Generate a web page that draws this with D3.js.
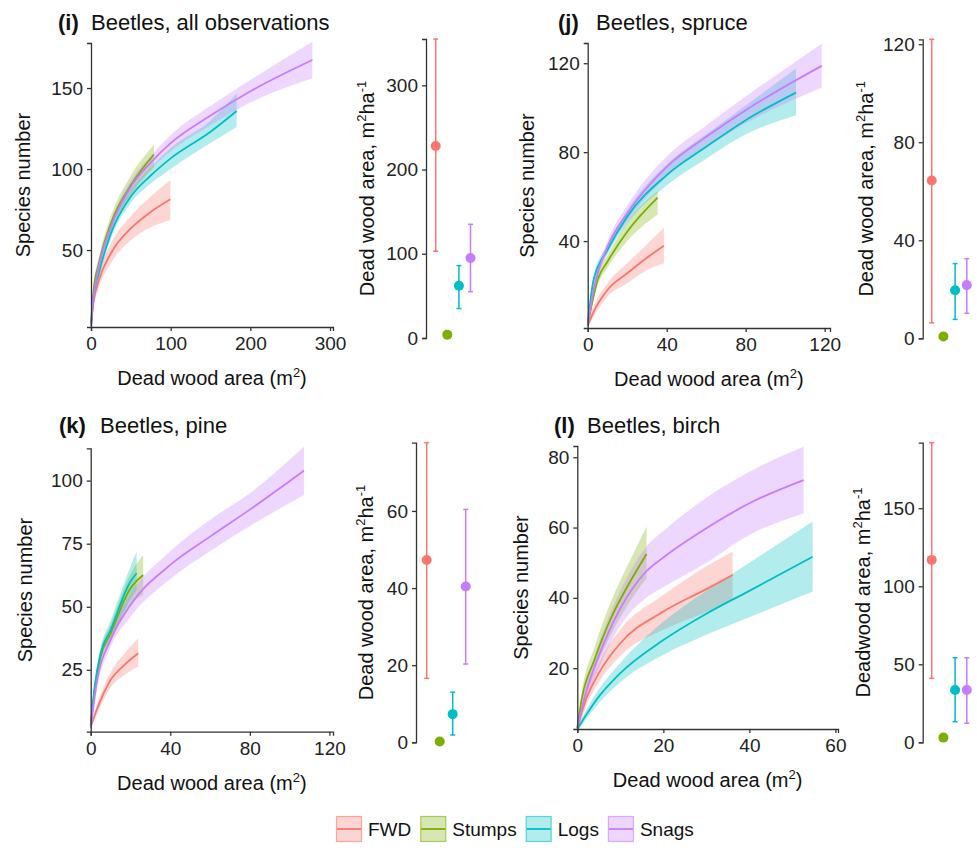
<!DOCTYPE html>
<html>
<head>
<meta charset="utf-8">
<script src="https://cdn.jsdelivr.net/npm/d3@7"></script>
<style>
  body { margin: 0; background: #fff; }
  svg { font-family: "Liberation Sans", Arial, sans-serif; }
  .axis path, .axis line { stroke: #333; stroke-width: 1.3px; }
  .axis text { fill: #222; font-size: 19px; font-family: "Liberation Sans", Arial, sans-serif; }
</style>
</head>
<body>
<svg id="chart" width="977" height="854"></svg>
<script>
var seriesNames = ["FWD", "Stumps", "Logs", "Snags"];
var seriesColors = ["#F8766D", "#7CAE00", "#00BFC4", "#C77CFF"];

// rarefaction curves, rows are [area m2, species, lower, upper]
var allFWD    = [[0,3,2,4],[3,17,14,20],[10,31.5,27,36],[25,48,42,54],[50,63.4,56,71],[75,73.5,64,83],[99.6,81.3,68.5,93.2]];
var allStumps = [[0,4,3,6],[3,24,21,27],[10,42,38,46],[25,66.5,62,71],[50,90,84,96],[79,109,101,115]];
var allLogs   = [[0,3,2,4],[3,20,18,22],[10,36,33,39],[25,60.3,57,64],[50,83,79,87],[75,96,91,101],[100,106.6,100,113],[150,123,116,130],[182.8,135.8,126,146.7]];
var allSnags  = [[0,3,2,4],[3,20,18,22],[10,40,37,43],[25,64.4,61,68],[50,89,85,93],[75,104,100,108],[100,116,111,121],[150,133,127,139],[200,148,141,155],[277.8,167.3,156,178.6]];

var spruceFWD    = [[0,2,1,3],[3,8.2,6,10.5],[10,18,15,21],[20,25.5,21,30],[30,32.5,27,38.5],[38.6,37.9,30,46]];
var spruceStumps = [[0,2,1,3],[5,22.5,20,25],[10,30.7,28,33.5],[20,44.2,40,48.5],[35.4,59.5,52,62.5]];
var spruceLogs   = [[0,3,2,4],[3,22.5,20,25],[10,36,34,38],[20,51,48,54],[40,69.7,65,74.5],[60,82.4,77,88],[80,94.4,88,101],[105.5,106.8,96.6,117.6]];
var spruceSnags  = [[0,2,1,3],[3,18,16,20],[10,37.4,35,40],[20,52.4,49,56],[40,73.4,69,78],[60,86.9,82,92],[80,98.9,93,105],[118.5,118.8,109,128.8]];

var pineFWD    = [[0,2.5,1.5,3.5],[3,9.1,7,11],[10,21,18,24],[17,27,23,31.5],[23.9,31.6,26.3,37.5]];
var pineStumps = [[0,3,2,4],[2,17,15,19],[5,30.3,28,33],[10,39.5,36,43],[20,57.3,51,63],[26.4,62.6,54.7,70.5]];
var pineLogs   = [[0,3,2,4],[2,18.4,16,20.5],[5,31.6,29,34],[10,40.8,37,44.5],[20,60,53,66],[23.1,63.3,56.7,71.9]];
var pineSnags  = [[0,2,1,3],[3,19.7,17,22],[10,36.9,34,40],[20,50.7,46,55],[40,66.6,61,72],[60,77.8,72,84.5],[80,88.5,82,95],[107.2,103.9,94.3,113.4]];

var birchFWD    = [[0,3,2,4],[2,11,9,13],[5,18.6,16,21.5],[10,27.1,23.5,31],[20,36.1,30.9,40.8],[30,42.5,36,49],[36.1,46.5,39.4,53.2]];
var birchStumps = [[0,3,2,4],[1,11,8,13],[4,22.4,19,26],[8,34.7,30,39.5],[12,44,38.5,50],[16.1,52.5,45.6,60.3]];
var birchLogs   = [[0,2.7,2,3.5],[5,11.9,10,14],[10,18.6,16,21.5],[20,28,23.8,33.2],[30,35.5,29.5,42],[40,42,34.5,50],[54.7,51.7,41.8,61.7]];
var birchSnags  = [[0,3,2,4],[2,13,11,15],[5,23.5,20,27],[10,37,32,42],[16,47.5,40,54.5],[20,51.5,43,59],[30,59.8,50,68.5],[40,66.9,57.9,75.9],[52.6,73.5,64,83]];

// dead wood area per hectare, rows are [mean, lower, upper] in seriesNames order
var allArea    = [[228,103,355],[4,3.5,4.5],[62,35,86],[95,55,135]];
var spruceArea = [[64.4,6.3,122],[0.7,0.5,0.9],[19.6,7.7,30.5],[21.7,10.2,32.5]];
var pineArea   = [[47.3,16.6,77.7],[0.2,0.1,0.3],[7.3,1.9,13],[40.4,20.3,60.4]];
var birchArea  = [[116.9,41,192],[3,2.5,3.5],[33.5,13.2,54.2],[33.5,12.2,54.2]];

// tick values
var allTicksX = [0,100,200,300],  allTicksY = [50,100,150],   allTicksArea = [0,100,200,300];
var spruceTicksX = [0,40,80,120], spruceTicksY = [40,80,120], spruceTicksArea = [0,40,80,120];
var pineTicksX = [0,40,80,120],   pineTicksY = [25,50,75,100], pineTicksArea = [0,20,40,60];
var birchTicksX = [0,20,40,60],   birchTicksY = [20,40,60,80], birchTicksArea = [0,50,100,150];

var svg = d3.select("#chart");

var panels = [
  {tag:"(i)", name:"Beetles, all observations", tagX:58, nameX:91, titleY:30,
   curves:[allFWD, allStumps, allLogs, allSnags], area:allArea,
   left:91, right:333, top:43, bottom:327, xMax:303.7, yMin:2.5, yMax:177.8,
   xTicks:allTicksX, yTicks:allTicksY, yTitleX:30,
   sideX:426, sideTop:39, sideBottom:338, sideMax:355, sideTicks:allTicksArea,
   sideFirst:435.7, sideStep:11.6, sideTitleX:374, sideTitle:"Dead wood area, m"},
  {tag:"(j)", name:"Beetles, spruce", tagX:558, nameX:596, titleY:30,
   curves:[spruceFWD, spruceStumps, spruceLogs, spruceSnags], area:spruceArea,
   left:587.7, right:830, top:43, bottom:328, xMax:122.7, yMin:0.9, yMax:129.1,
   xTicks:spruceTicksX, yTicks:spruceTicksY, yTitleX:534,
   sideX:922.7, sideTop:39.3, sideBottom:338.3, sideMax:122, sideTicks:spruceTicksArea,
   sideFirst:931.7, sideStep:11.7, sideTitleX:873, sideTitle:"Dead wood area, m"},
  {tag:"(k)", name:"Beetles, pine", tagX:59, nameX:100, titleY:433,
   curves:[pineFWD, pineStumps, pineLogs, pineSnags], area:pineArea,
   left:90.7, right:333, top:448.3, bottom:731.7, xMax:121.8, yMin:0.5, yMax:112.8,
   xTicks:pineTicksX, yTicks:pineTicksY, yTitleX:32,
   sideX:416, sideTop:442.7, sideBottom:742.3, sideMax:77.7, sideTicks:pineTicksArea,
   sideFirst:426.7, sideStep:13, sideTitleX:373, sideTitle:"Dead wood area, m"},
  {tag:"(l)", name:"Beetles, birch", tagX:554, nameX:587, titleY:433,
   curves:[birchFWD, birchStumps, birchLogs, birchSnags], area:birchArea,
   left:577.3, right:838, top:446, bottom:729, xMax:60.6, yMin:2.7, yMax:83.2,
   xTicks:birchTicksX, yTicks:birchTicksY, yTitleX:528,
   sideX:922.7, sideTop:442.7, sideBottom:742.3, sideMax:192, sideTicks:birchTicksArea,
   sideFirst:931.7, sideStep:11.7, sideTitleX:870, sideTitle:"Deadwood area, m"}
];

panels.forEach(drawPanel);
drawLegend();

function drawPanel(p) {
  var g = svg.append("g");

  // title
  var t = g.append("text").attr("y", p.titleY).style("font-size", "22px").attr("fill", "#111");
  t.append("tspan").attr("x", p.tagX).style("font-weight", "bold").text(p.tag);
  t.append("tspan").attr("x", p.nameX).text(p.name);

  // rarefaction curves
  var x = d3.scaleLinear().domain([0, p.xMax]).range([p.left, p.right]);
  var y = d3.scaleLinear().domain([p.yMin, p.yMax]).range([p.bottom, p.top]);

  var band = d3.area()
    .x(function(d) { return x(d[0]); })
    .y0(function(d) { return y(d[2]); })
    .y1(function(d) { return y(d[3]); })
    .curve(d3.curveMonotoneX);
  var line = d3.line()
    .x(function(d) { return x(d[0]); })
    .y(function(d) { return y(d[1]); })
    .curve(d3.curveMonotoneX);

  g.append("g").selectAll("path").data(p.curves).enter().append("path")
    .attr("d", band)
    .attr("fill", function(d, i) { return seriesColors[i]; })
    .attr("fill-opacity", 0.3);
  g.append("g").selectAll("path").data(p.curves).enter().append("path")
    .attr("d", line)
    .attr("fill", "none")
    .attr("stroke", function(d, i) { return seriesColors[i]; })
    .attr("stroke-width", 1.8);

  g.append("g").attr("class", "axis")
    .attr("transform", "translate(0," + p.bottom + ")")
    .call(d3.axisBottom(x).tickValues(p.xTicks).tickSizeOuter(0).tickSize(4).tickPadding(6));
  g.append("g").attr("class", "axis")
    .attr("transform", "translate(" + p.left + ",0)")
    .call(d3.axisLeft(y).tickValues(p.yTicks).tickSizeOuter(0).tickSize(4).tickPadding(4));

  g.append("text")
    .attr("transform", "rotate(-90)")
    .attr("x", -(p.top + p.bottom) / 2).attr("y", p.yTitleX)
    .attr("text-anchor", "middle").style("font-size", "20px").attr("fill", "#111")
    .text("Species number");

  var xt = g.append("text")
    .attr("x", (p.left + p.right) / 2).attr("y", p.bottom + 58)
    .attr("text-anchor", "middle").style("font-size", "20px").attr("fill", "#111");
  xt.append("tspan").text("Dead wood area (m");
  xt.append("tspan").attr("dy", -8).style("font-size", "13px").text("2");
  xt.append("tspan").attr("dy", 8).text(")");

  // dead wood area per ha
  var sx = d3.scalePoint().domain(seriesNames)
    .range([p.sideFirst, p.sideFirst + 3 * p.sideStep]);
  var sy = d3.scaleLinear().domain([0, p.sideMax]).range([p.sideBottom, p.sideTop]);

  g.append("g").attr("class", "axis")
    .attr("transform", "translate(" + p.sideX + ",0)")
    .call(d3.axisLeft(sy).tickValues(p.sideTicks).tickSizeOuter(0).tickSize(4).tickPadding(4));

  var bars = g.append("g").selectAll("g").data(p.area).enter().append("g")
    .attr("stroke", function(d, i) { return seriesColors[i]; })
    .attr("fill", function(d, i) { return seriesColors[i]; });
  bars.append("line")
    .attr("x1", function(d, i) { return sx(seriesNames[i]); })
    .attr("x2", function(d, i) { return sx(seriesNames[i]); })
    .attr("y1", function(d) { return sy(d[1]); })
    .attr("y2", function(d) { return sy(d[2]); })
    .attr("stroke-width", 1.5);
  [1, 2].forEach(function(k) {
    bars.append("line")
      .attr("x1", function(d, i) { return sx(seriesNames[i]) - 2.5; })
      .attr("x2", function(d, i) { return sx(seriesNames[i]) + 2.5; })
      .attr("y1", function(d) { return sy(d[k]); })
      .attr("y2", function(d) { return sy(d[k]); })
      .attr("stroke-width", 1.5);
  });
  bars.append("circle")
    .attr("cx", function(d, i) { return sx(seriesNames[i]); })
    .attr("cy", function(d) { return sy(d[0]); })
    .attr("r", 5)
    .attr("stroke", "none");

  var st = g.append("text")
    .attr("transform", "rotate(-90)")
    .attr("x", -(p.sideTop + p.sideBottom) / 2).attr("y", p.sideTitleX)
    .attr("text-anchor", "middle").style("font-size", "20px").attr("fill", "#111");
  st.append("tspan").text(p.sideTitle);
  st.append("tspan").attr("dy", -8).style("font-size", "13px").text("2");
  st.append("tspan").attr("dy", 8).text("ha");
  st.append("tspan").attr("dy", -8).style("font-size", "13px").text("-1");
}

function drawLegend() {
  var lg = svg.append("g");
  var cx = 336, top = 816;
  seriesNames.forEach(function(name, i) {
    lg.append("rect")
      .attr("x", cx + 0.5).attr("y", top + 0.5).attr("width", 25).attr("height", 25)
      .attr("fill", seriesColors[i]).attr("fill-opacity", 0.3)
      .attr("stroke", seriesColors[i]).attr("stroke-opacity", 0.6).attr("stroke-width", 1.2);
    lg.append("line")
      .attr("x1", cx + 1).attr("x2", cx + 25)
      .attr("y1", top + 13).attr("y2", top + 13)
      .attr("stroke", seriesColors[i]).attr("stroke-width", 1.8);
    var txt = lg.append("text")
      .attr("x", cx + 32).attr("y", top + 20)
      .style("font-size", "19px").attr("fill", "#111")
      .text(name);
    cx += 32 + txt.node().getComputedTextLength() + 9;
  });
}
</script>
</body>
</html>
